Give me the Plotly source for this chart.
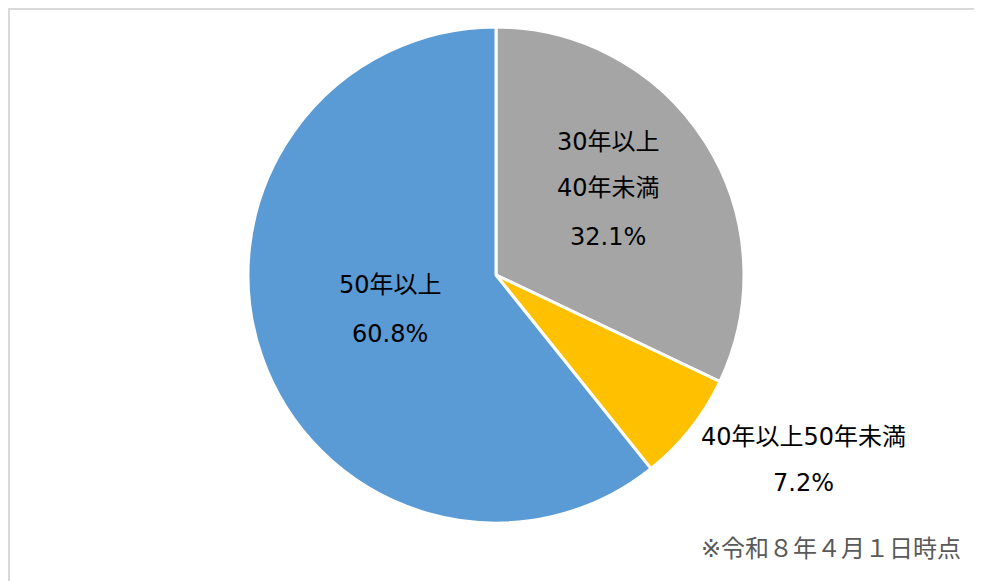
import plotly.graph_objects as go

OFF = 8  # page body margin that offsets the figure in the browser
W, H = 982 - OFF, 581 - OFF

categories = ["30年以上40年未満", "40年以上50年未満", "50年以上"]
values = [32.1, 7.2, 60.8]
colors = ["#A5A5A5", "#FFC000", "#5B9BD5"]

# label lines per slice and their pixel centres (screen coords)
label_lines = [
    (["30年以上", "40年未満", "32.1%"], 608, [142, 188, 237]),
    (["40年以上50年未満", "7.2%"], 803, [437, 483]),
    (["50年以上", "60.8%"], 390, [285, 334]),
]
note = "※令和８年４月１日時点"

FONT = "DejaVu Sans, Noto Sans CJK JP, sans-serif"


def px(x):
    return (x - OFF) / W


def py(y):
    return 1 - (y - OFF) / H


fig = go.Figure(go.Pie(
    labels=categories,
    values=values,
    sort=False,
    direction="clockwise",
    rotation=0,
    marker=dict(colors=colors, line=dict(color="white", width=3)),
    textinfo="none",
    hoverinfo="label+percent",
    domain=dict(x=[px(248), px(744)], y=[py(523), py(27)]),
    showlegend=False,
))

annotations = []
for lines, cx, ys in label_lines:
    for text, cy in zip(lines, ys):
        annotations.append(dict(
            text=text, x=px(cx), y=py(cy), xref="paper", yref="paper",
            showarrow=False, xanchor="center", yanchor="middle",
            font=dict(family=FONT, size=24, color="#000000"),
        ))
annotations.append(dict(
    text=note, x=px(963), y=py(549), xref="paper", yref="paper",
    showarrow=False, xanchor="right", yanchor="middle",
    font=dict(family=FONT, size=24, color="#595959"),
))

fig.update_layout(
    width=W, height=H,
    margin=dict(l=0, r=0, t=0, b=0),
    paper_bgcolor="white",
    plot_bgcolor="white",
    annotations=annotations,
    shapes=[dict(type="rect", xref="paper", yref="paper",
                 x0=1 / W, y0=-0.1, x1=1.1, y1=1 - 1 / H,
                 line=dict(color="#D9D9D9", width=2))],
)

fig.write_html("out.html")
